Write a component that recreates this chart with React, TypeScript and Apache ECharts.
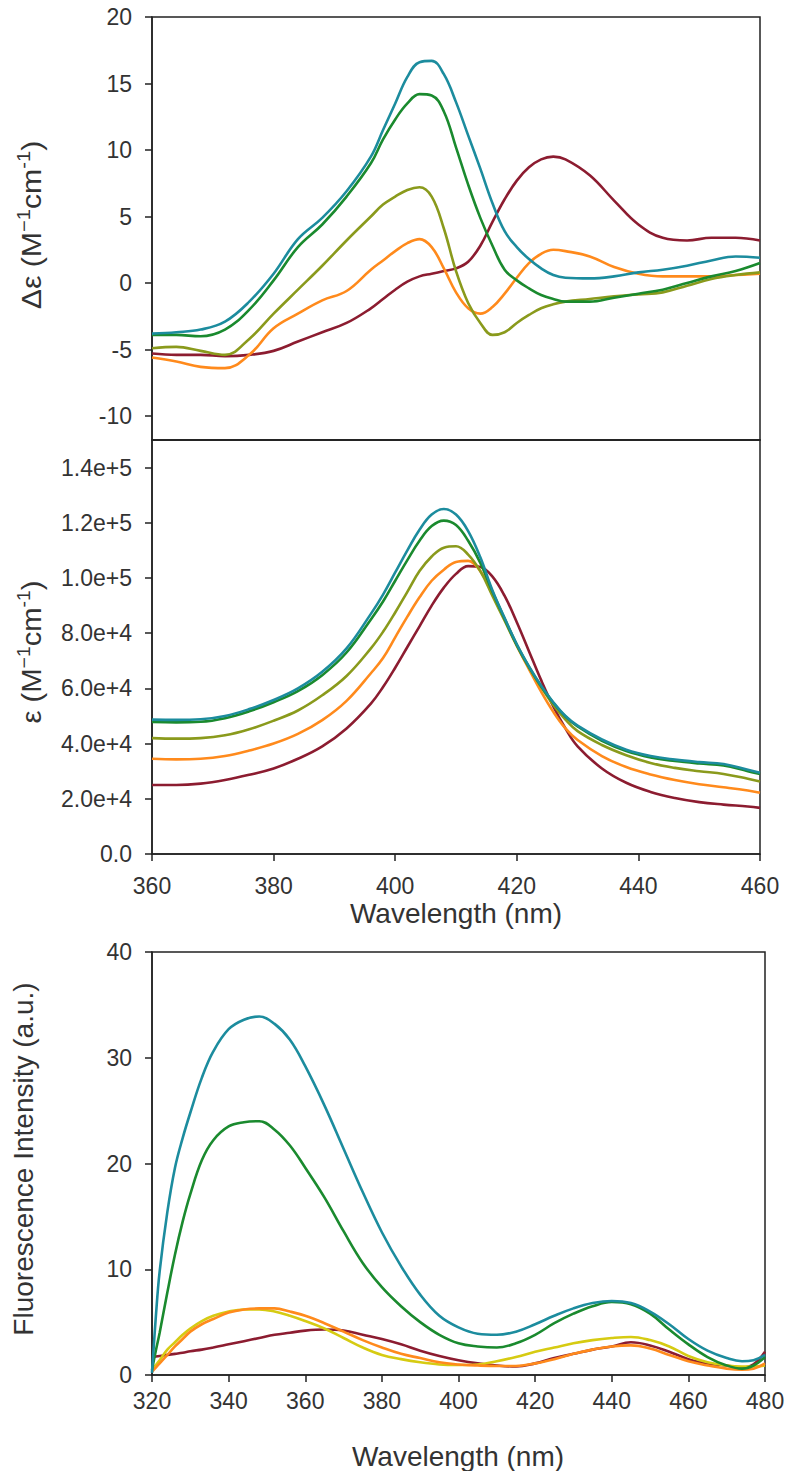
import React, { useEffect, useRef } from "react";
import * as echarts from "echarts";

// ---------- DATA ----------
// Panel A: circular dichroism (Δε, M^-1 cm^-1)
const W_CD = [360, 364, 368, 372, 376, 380, 384, 388, 392, 396, 398, 400, 402, 404, 406, 408, 410, 412, 414, 416, 418, 420, 422, 424, 426, 428, 432, 436, 440, 444, 448, 452, 456, 460];
const CD_TEAL = [-3.8, -3.7, -3.5, -2.9, -1.4, 0.7, 3.3, 4.9, 6.9, 9.5, 11.5, 13.5, 15.5, 16.6, 16.7, 15.7, 13.6, 11.1, 8.6, 6.0, 3.9, 2.7, 1.8, 1.1, 0.6, 0.4, 0.35, 0.5, 0.8, 1.0, 1.3, 1.7, 2.0, 1.9];
const CD_GREEN = [-3.9, -3.9, -4.0, -3.5, -2.0, 0.2, 2.7, 4.4, 6.5, 9.0, 10.8, 12.3, 13.5, 14.2, 14.1, 12.9, 10.2, 7.4, 4.9, 2.8, 1.0, 0.2, -0.4, -0.9, -1.2, -1.4, -1.4, -1.1, -0.8, -0.5, 0, 0.5, 0.9, 1.5];
const CD_OLIVE = [-4.9, -4.8, -5.1, -5.4, -4.2, -2.3, -0.5, 1.3, 3.2, 5.0, 5.9, 6.5, 7.0, 7.2, 6.5, 4.1, 0.9, -1.5, -3.0, -3.9, -3.7, -3.0, -2.4, -1.9, -1.6, -1.4, -1.2, -1.0, -0.85, -0.7, -0.2, 0.3, 0.6, 0.8];
const CD_ORANGE = [-5.6, -5.9, -6.3, -6.4, -5.4, -3.4, -2.3, -1.3, -0.6, 1.0, 1.7, 2.4, 3.0, 3.3, 2.7, 1.1, -0.7, -1.9, -2.3, -1.8, -0.8, 0.4, 1.5, 2.2, 2.5, 2.4, 2.0, 1.2, 0.7, 0.5, 0.5, 0.5, 0.6, 0.7];
const CD_MAROON = [-5.3, -5.4, -5.4, -5.5, -5.4, -5.1, -4.4, -3.7, -3.0, -1.9, -1.2, -0.5, 0.1, 0.5, 0.7, 0.9, 1.1, 1.6, 2.8, 4.6, 6.3, 7.7, 8.7, 9.3, 9.5, 9.3, 8.1, 6.2, 4.4, 3.4, 3.2, 3.4, 3.4, 3.2];
const CD_TICKS = [-10, -5, 0, 5, 10, 15, 20];

// Panel B: absorbance (ε, M^-1 cm^-1)
const W_ABS = [360, 364, 368, 372, 376, 380, 384, 388, 392, 396, 398, 400, 402, 404, 406, 408, 410, 412, 414, 416, 418, 420, 422, 424, 426, 428, 430, 434, 438, 442, 446, 450, 454, 458, 460];
const ABS_TEAL = [48700, 48600, 48800, 50000, 52500, 55800, 60000, 66000, 74500, 87000, 94000, 102000, 110000, 117500, 123000, 125000, 123000, 117000, 107500, 95500, 85500, 76000, 68000, 61000, 55000, 50000, 46500, 41500, 37800, 35500, 34200, 33300, 32600, 30500, 29400];
const ABS_GREEN = [47800, 47700, 47900, 49200, 51700, 55000, 59000, 64800, 73000, 85000, 91500, 99000, 106500, 113500, 118800, 120800, 119200, 113500, 105500, 95000, 85200, 75800, 67800, 60800, 54800, 49800, 46200, 41000, 37300, 35000, 33700, 32800, 32100, 30000, 29000];
const ABS_OLIVE = [42000, 41800, 42000, 43000, 45200, 48300, 52000, 57500, 64500, 74500, 80500, 87500, 95000, 102500, 107800, 111000, 111500, 108500, 102500, 93500, 84500, 75500, 67500, 60500, 54000, 48700, 44500, 39500, 35800, 33000, 31200, 30000, 29000, 27300, 26300];
const ABS_ORANGE = [34500, 34300, 34500, 35500, 37500, 40000, 43500, 48500, 55500, 65500, 71000, 78500, 86000, 93000, 99000, 103000, 105800, 106200, 102500, 94500, 85000, 75500, 67000, 58800, 51500, 45500, 41300, 35500, 31500, 28800, 26800, 25300, 24200, 23000, 22200];
const ABS_MAROON = [25000, 25000, 25500, 26800, 28700, 31000, 34500, 39000, 45500, 54500, 60500, 67500, 75000, 82500, 90000, 96500, 101500, 104300, 104000, 100500, 93500, 84000, 73500, 63000, 53500, 45500, 39000, 31000, 25800, 22500, 20300, 18800, 17900, 17200, 16700];
const ABS_TICKS = [0, 20000, 40000, 60000, 80000, 100000, 120000, 140000];

// Panel C: fluorescence (a.u.)
const W_FL = [320, 321, 322, 324, 326, 328, 330, 333, 336, 340, 344, 348, 352, 356, 360, 365, 370, 375, 380, 385, 390, 395, 400, 405, 410, 415, 420, 425, 430, 435, 440, 445, 450, 455, 460, 465, 470, 474, 477, 480];
const FL_TEAL = [0.2, 5.5, 9.8, 15.4, 19.6, 22.4, 24.8, 28.1, 30.6, 32.7, 33.6, 33.9, 33.2, 31.7, 29.2, 25.5, 21.4, 17.3, 13.5, 10.3, 7.6, 5.6, 4.5, 3.9, 3.8, 4.1, 4.8, 5.6, 6.3, 6.8, 7.0, 6.8, 6.0, 4.8, 3.4, 2.3, 1.6, 1.3, 1.4, 1.9];
const FL_GREEN = [0.5, 2.3, 4.0, 7.8, 11.4, 14.5, 17.1, 20.3, 22.2, 23.5, 23.9, 24.0, 23.2, 21.7, 19.6, 16.8, 13.6, 10.6, 8.3, 6.5, 5.0, 3.8, 3.0, 2.7, 2.6, 3.0, 3.8, 4.9, 5.8, 6.5, 6.9, 6.7, 5.8, 4.3, 2.9, 1.7, 0.9, 0.6, 0.9, 1.7];
const FL_YELLOW = [0.5, 0.95, 1.4, 2.4, 3.1, 3.8, 4.4, 5.1, 5.6, 6.0, 6.2, 6.2, 6.0, 5.6, 5.1, 4.4, 3.5, 2.6, 1.9, 1.5, 1.2, 1.0, 0.95, 1.0, 1.3, 1.7, 2.2, 2.6, 3.0, 3.3, 3.5, 3.6, 3.3, 2.7, 1.8, 1.2, 0.9, 0.8, 0.8, 0.9];
const FL_ORANGE = [0.3, 0.7, 1.1, 1.9, 2.7, 3.4, 4.1, 4.8, 5.3, 5.9, 6.2, 6.3, 6.3, 6.0, 5.6, 4.9, 4.1, 3.3, 2.6, 2.0, 1.6, 1.2, 1.0, 0.9, 0.85, 0.85, 1.1, 1.5, 2.0, 2.4, 2.7, 2.8, 2.5, 1.9, 1.3, 0.9, 0.6, 0.5, 0.6, 1.1];
const FL_MAROON = [1.7, 1.75, 1.8, 1.9, 2.0, 2.1, 2.25, 2.4, 2.6, 2.9, 3.2, 3.5, 3.8, 4.0, 4.2, 4.3, 4.2, 3.8, 3.4, 2.9, 2.3, 1.8, 1.4, 1.1, 0.9, 0.8, 1.1, 1.6, 2.0, 2.4, 2.7, 3.1, 2.8, 2.2, 1.5, 1.1, 0.9, 0.7, 1.0, 2.2];

// ---------- STYLE ----------
const C_TEAL = "#1C8C9E";
const C_GREEN = "#1A8A2E";
const C_OLIVE = "#8A9A1C";
const C_ORANGE = "#FF8A1C";
const C_MAROON = "#8C1C30";
const C_YELLOW = "#D6CB12";
const TXT = "#333333";
const AX = "#222222";
const FONT = "'Liberation Sans', Arial, sans-serif";

const pairs = (xs: number[], ys: number[]) => xs.map((x, i) => [x, ys[i]]);

function line(name: string, xs: number[], ys: number[], color: string, idx: number) {
  return {
    type: "line",
    name,
    xAxisIndex: idx,
    yAxisIndex: idx,
    data: pairs(xs, ys),
    smooth: 0.4,
    showSymbol: false,
    symbol: "none",
    lineStyle: { color, width: 2.6 },
    itemStyle: { color },
    z: 3,
  };
}

const labelStyle = { color: TXT, fontSize: 23, fontFamily: FONT };
const tickStyle = { lineStyle: { color: AX, width: 1.5 }, length: 7, inside: false };

export default function App() {
  const ref = useRef<HTMLDivElement>(null);

  useEffect(() => {
    if (!ref.current) return;
    const chart = echarts.init(ref.current, undefined, { renderer: "svg" });
    const gridBase = { show: true, borderColor: AX, borderWidth: 1.5, backgroundColor: "transparent" };
    const option: any = {
      animation: false,
      backgroundColor: "#ffffff",
      grid: [
        { ...gridBase, left: 152, top: 17, width: 608, height: 423 },
        { ...gridBase, left: 152, top: 440, width: 608, height: 414 },
        { ...gridBase, left: 152, top: 952, width: 613, height: 423 },
      ],
      xAxis: [
        {
          type: "value", gridIndex: 0, min: 360, max: 460, interval: 20,
          axisLine: { show: true, onZero: false, lineStyle: { color: AX, width: 1.5 } },
          axisTick: { show: false }, axisLabel: { show: false }, splitLine: { show: false },
        },
        {
          type: "value", gridIndex: 1, min: 360, max: 460, interval: 20,
          axisLine: { show: true, onZero: false, lineStyle: { color: AX, width: 1.5 } },
          axisTick: { show: true, ...tickStyle },
          axisLabel: { ...labelStyle, margin: 20 },
          splitLine: { show: false },
        },
        {
          type: "value", gridIndex: 2, min: 320, max: 480, interval: 20,
          axisLine: { show: true, onZero: false, lineStyle: { color: AX, width: 1.5 } },
          axisTick: { show: true, ...tickStyle },
          axisLabel: { ...labelStyle, margin: 14 },
          splitLine: { show: false },
        },
      ],
      yAxis: [
        {
          type: "value", gridIndex: 0, min: -11.8, max: 20,
          axisLine: { show: true, onZero: false, lineStyle: { color: AX, width: 1.5 } },
          axisTick: { show: true, ...tickStyle, customValues: CD_TICKS },
          axisLabel: { ...labelStyle, margin: 20, customValues: CD_TICKS },
          splitLine: { show: false },
        },
        {
          type: "value", gridIndex: 1, min: 0, max: 150000,
          axisLine: { show: true, onZero: false, lineStyle: { color: AX, width: 1.5 } },
          axisTick: { show: true, ...tickStyle, customValues: ABS_TICKS },
          axisLabel: {
            ...labelStyle, margin: 20, customValues: ABS_TICKS,
            formatter: (v: number) => (v === 0 ? "0.0" : v.toExponential(1)),
          },
          splitLine: { show: false },
        },
        {
          type: "value", gridIndex: 2, min: 0, max: 40, interval: 10,
          axisLine: { show: true, onZero: false, lineStyle: { color: AX, width: 1.5 } },
          axisTick: { show: true, ...tickStyle },
          axisLabel: { ...labelStyle, margin: 20 },
          splitLine: { show: false },
        },
      ],
      graphic: [
        {
          type: "text", x: 30, y: 225, rotation: Math.PI / 2, scaleX: 1.12,
          style: {
            text: "{n|Δε (M}{s|−1}{n|cm}{s|-1}{n|)}",
            align: "center", verticalAlign: "middle", fill: TXT,
            rich: {
              n: { fontSize: 27, fontFamily: FONT, fill: TXT, lineHeight: 30, verticalAlign: "bottom" },
              s: { fontSize: 18, fontFamily: FONT, fill: TXT, lineHeight: 30, verticalAlign: "top" },
            },
          },
        },
        {
          type: "text", x: 30, y: 652, rotation: Math.PI / 2, scaleX: 1.08,
          style: {
            text: "{n|ε (M}{s|−1}{n|cm}{s|-1}{n|)}",
            align: "center", verticalAlign: "middle", fill: TXT,
            rich: {
              n: { fontSize: 27, fontFamily: FONT, fill: TXT, lineHeight: 30, verticalAlign: "bottom" },
              s: { fontSize: 18, fontFamily: FONT, fill: TXT, lineHeight: 30, verticalAlign: "top" },
            },
          },
        },
        {
          type: "text", x: 456, y: 913,
          style: { text: "Wavelength (nm)", fontSize: 28, fontFamily: FONT, fill: TXT, align: "center", verticalAlign: "middle" },
        },
        {
          type: "text", x: 23, y: 1159, rotation: Math.PI / 2,
          style: { text: "Fluorescence Intensity (a.u.)", fontSize: 28, fontFamily: FONT, fill: TXT, align: "center", verticalAlign: "middle" },
        },
        {
          type: "text", x: 458, y: 1456,
          style: { text: "Wavelength (nm)", fontSize: 28, fontFamily: FONT, fill: TXT, align: "center", verticalAlign: "middle" },
        },
      ],
      series: [
        line("CD maroon", W_CD, CD_MAROON, C_MAROON, 0),
        line("CD orange", W_CD, CD_ORANGE, C_ORANGE, 0),
        line("CD olive", W_CD, CD_OLIVE, C_OLIVE, 0),
        line("CD green", W_CD, CD_GREEN, C_GREEN, 0),
        line("CD teal", W_CD, CD_TEAL, C_TEAL, 0),
        line("Abs maroon", W_ABS, ABS_MAROON, C_MAROON, 1),
        line("Abs orange", W_ABS, ABS_ORANGE, C_ORANGE, 1),
        line("Abs olive", W_ABS, ABS_OLIVE, C_OLIVE, 1),
        line("Abs green", W_ABS, ABS_GREEN, C_GREEN, 1),
        line("Abs teal", W_ABS, ABS_TEAL, C_TEAL, 1),
        line("Fl maroon", W_FL, FL_MAROON, C_MAROON, 2),
        line("Fl yellow", W_FL, FL_YELLOW, C_YELLOW, 2),
        line("Fl orange", W_FL, FL_ORANGE, C_ORANGE, 2),
        line("Fl green", W_FL, FL_GREEN, C_GREEN, 2),
        line("Fl teal", W_FL, FL_TEAL, C_TEAL, 2),
      ],
    };
    chart.setOption(option);
    return () => chart.dispose();
  }, []);

  return (
    <div
      ref={ref}
      style={{ position: "absolute", left: 0, top: 0, width: 788, height: 1471, background: "#fff" }}
    />
  );
}
